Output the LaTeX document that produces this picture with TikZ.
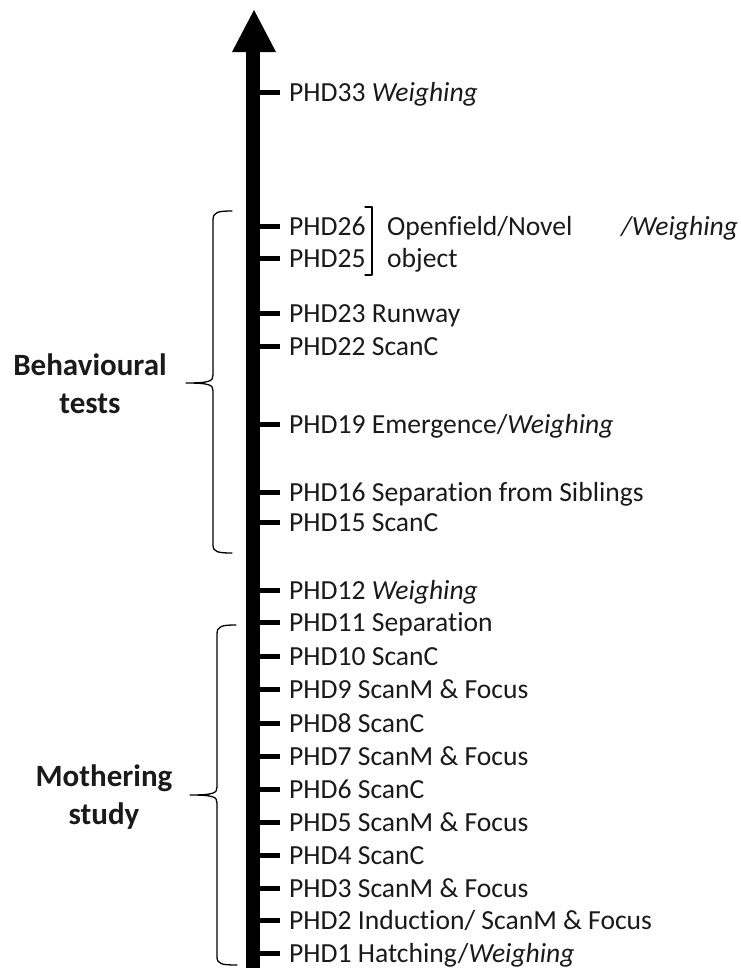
\documentclass[tikz,border=0pt]{standalone}
\usepackage{fontspec}
\setmainfont{Carlito}[Ligatures={NoCommon,NoRequired,NoContextual}]
\definecolor{txt}{HTML}{1A1A1A}
\begin{document}
\begin{tikzpicture}[x=1pt,y=-1pt,
  lbl/.style={anchor=base west, inner sep=0pt, text=txt, font=\fontsize{27.6pt}{33pt}\selectfont},
  tickline/.style={line width=5pt},
  grp/.style={align=center, inner sep=0pt, text=txt, font=\fontsize{31pt}{38pt}\selectfont\bfseries},
  brace/.style={line width=1.3pt, line cap=round, line join=round}]
\useasboundingbox (0,0) rectangle (741,970);
% axis
\coordinate (axbot) at (253,968);
\coordinate (axtop) at (253,45);
\draw[line width=14pt] (axbot) -- (axtop);
\fill (254,10) -- (276,52) -- (232,52) -- cycle;
\newcommand\tk[3]{\coordinate (c#1) at (260,#2); \draw[tickline] (c#1) -- ++(20,0); \node[lbl] (#1) at (289,#2+9) {#3};}
\tk{p33}{92}{PHD33 \textit{Weighing}}
\tk{p26}{226}{PHD26}
\tk{p25}{258}{PHD25}
\tk{p23}{313}{PHD23 Runway}
\tk{p22}{346}{PHD22 ScanC}
\tk{p19}{424}{PHD19 Emergence/\textit{Weighing}}
\tk{p16}{492}{PHD16 Separation from Siblings}
\tk{p15}{522}{PHD15 ScanC}
\tk{p12}{590}{PHD12 \textit{Weighing}}
\tk{p11}{622}{PHD11 Separation}
\tk{p10}{656}{PHD10 ScanC}
\tk{p9}{689}{PHD9 ScanM \& Focus}
\tk{p8}{723}{PHD8 ScanC}
\tk{p7}{756}{PHD7 ScanM \& Focus}
\tk{p6}{789}{PHD6 ScanC}
\tk{p5}{822}{PHD5 ScanM \& Focus}
\tk{p4}{855}{PHD4 ScanC}
\tk{p3}{888}{PHD3 ScanM \& Focus}
\tk{p2}{920}{PHD2 Induction/ ScanM \& Focus}
\tk{p1}{953}{PHD1 Hatching/\textit{Weighing}}
% PHD25-26 group
\node[lbl] (of) at (387,235) {Openfield/Novel};
\node[lbl] (ob) at (387,267) {object};
\node[lbl] (ow) at (621,235) {\textit{/Weighing}};
\draw[brace] (365,207) -- (372,207) -- (372,275) -- (365,275);
% braces
\draw[brace] (232,211) .. controls (218,211) and (213,212) .. (213,220) -- (213,375)
  .. controls (213,381) and (210,383) .. (186,383)
  .. controls (210,383) and (213,385) .. (213,391) -- (213,545)
  .. controls (213,552) and (218,553) .. (232,553);
\draw[brace] (236,625) .. controls (222,625) and (217,626) .. (217,634) -- (217,787)
  .. controls (217,793) and (214,795) .. (190,795)
  .. controls (214,795) and (217,797) .. (217,803) -- (217,957)
  .. controls (217,964) and (222,965) .. (237,965);
\node[grp] (beh) at (90,384) {Behavioural\\tests};
\node[grp] (moth) at (104,797) {Mothering\\study};
\end{tikzpicture}
\end{document}
